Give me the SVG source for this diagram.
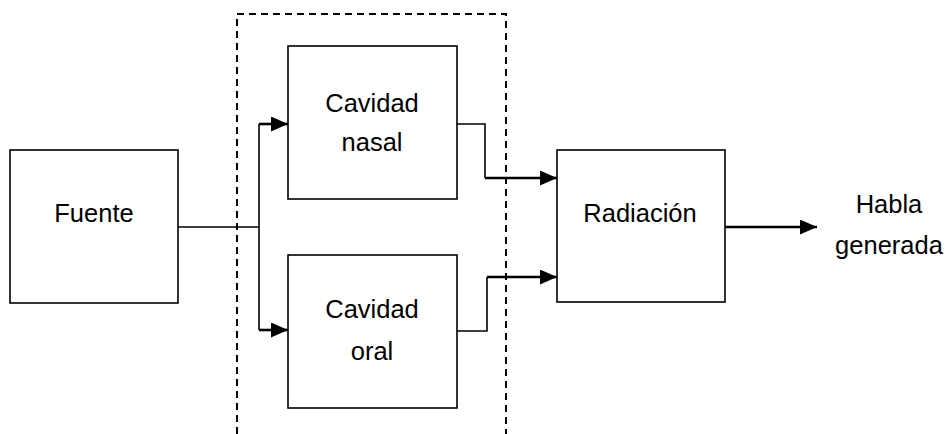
<svg xmlns="http://www.w3.org/2000/svg" width="947" height="434" viewBox="0 0 947 434">
<style>
.box{fill:#fff;stroke:#000;stroke-width:1.6}
.t{font-family:"Liberation Sans",Arial,sans-serif;font-size:25.5px;fill:#000;text-anchor:middle}
.c{fill:none;stroke:#000;stroke-width:1.6}
.ca{fill:none;stroke:#000;stroke-width:2.6}
.dash{fill:none;stroke:#000;stroke-width:2;stroke-dasharray:7,5}
</style>
<defs>
<marker id="ah" markerWidth="17" markerHeight="15" refX="17" refY="7.5" orient="auto" markerUnits="userSpaceOnUse">
<path d="M0,0 L17,7.5 L0,15 Z" fill="#000"/>
</marker>
</defs>
<g id="grupo">
<path class="dash" d="M237,434 V14 H506 V434"/>
</g>
<g id="fuente">
<rect class="box" x="10" y="150" width="168" height="153"/>
<text class="t" x="94" y="222">Fuente</text>
</g>
<g id="nasal">
<rect class="box" x="288" y="46" width="169" height="153"/>
<text class="t" x="372" y="112">Cavidad</text>
<text class="t" x="372" y="151">nasal</text>
</g>
<g id="oral">
<rect class="box" x="288" y="255" width="169" height="153"/>
<text class="t" x="372" y="318">Cavidad</text>
<text class="t" x="372" y="360">oral</text>
</g>
<g id="radiacion">
<rect class="box" x="557" y="150" width="168" height="152"/>
<text class="t" x="640" y="222">Radiación</text>
</g>
<g id="salida">
<text class="t" x="889" y="213">Habla</text>
<text class="t" x="889" y="254">generada</text>
</g>
<g id="connectors">
<path class="c" d="M178,227 H259 M259,124 V330"/>
<path class="ca" d="M259,124 H288" marker-end="url(#ah)"/>
<path class="ca" d="M259,330 H288" marker-end="url(#ah)"/>
<path class="c" d="M457,124 H485 V178"/>
<path class="ca" d="M485,178 H557" marker-end="url(#ah)"/>
<path class="c" d="M457,331 H487 V277"/>
<path class="ca" d="M487,277 H557" marker-end="url(#ah)"/>
<path class="ca" d="M725,227 H817" marker-end="url(#ah)"/>
</g>
</svg>
